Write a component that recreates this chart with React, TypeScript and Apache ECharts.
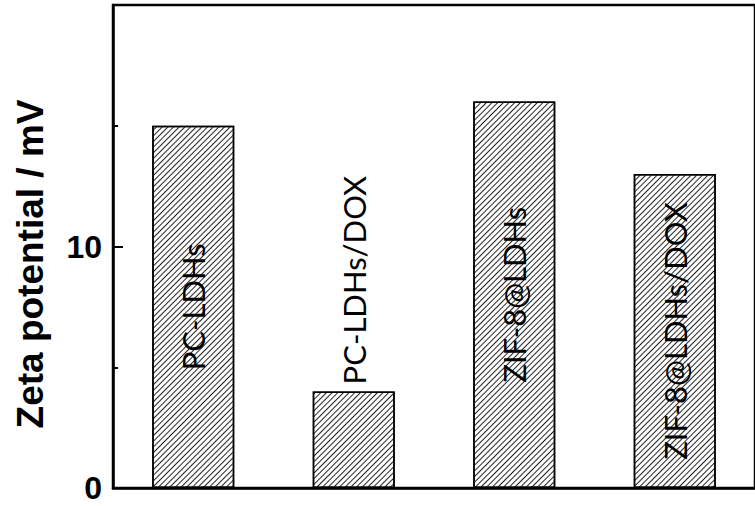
import React, { useEffect, useRef } from "react";
import * as echarts from "echarts";

const categories = ["PC-LDHs", "PC-LDHs/DOX", "ZIF-8@LDHs", "ZIF-8@LDHs/DOX"];
const zetaValues = [15, 4, 16, 13];
const labelInside = [true, false, true, true];
const yTitle = "Zeta potential / mV";

export default function App() {
  const ref = useRef<HTMLDivElement>(null);
  useEffect(() => {
    if (!ref.current) return;
    const chart = echarts.init(ref.current, undefined, { renderer: "svg" });
    const labelFont = "Lato";
    chart.setOption({
      animation: false,
      backgroundColor: "#fff",
      grid: {
        left: 113,
        top: 5,
        bottom: 18,
        right: -10,
        show: true,
        borderColor: "#000",
        borderWidth: 2.5,
        containLabel: false,
      },
      xAxis: {
        type: "category",
        data: categories,
        axisLine: { show: true, lineStyle: { color: "#000", width: 2.5 } },
        axisTick: { show: false },
        axisLabel: { show: false },
        splitLine: { show: false },
      },
      yAxis: {
        type: "value",
        min: 0,
        max: 20,
        interval: 10,
        axisLine: { show: true, lineStyle: { color: "#000", width: 2.5 } },
        axisTick: { show: true, inside: true, length: 10, lineStyle: { color: "#000", width: 2 } },
        minorTick: { show: true, splitNumber: 2, length: 5, lineStyle: { color: "#000", width: 2 } },
        axisLabel: {
          showMaxLabel: false,
          color: "#000",
          fontFamily: "Liberation Sans",
          fontWeight: "bold",
          fontSize: 32,
          margin: 11,
        },
        splitLine: { show: false },
      },
      graphic: [
        {
          type: "text",
          x: 30,
          y: 264,
          rotation: Math.PI / 2,
          style: {
            text: yTitle,
            fill: "#000",
            font: "bold 37px 'Liberation Sans'",
            textAlign: "center",
            textVerticalAlign: "middle",
          },
        },
      ],
      series: [
        {
          type: "bar",
          barWidth: 82,
          data: zetaValues.map((v, i) => ({
            value: v,
            label: labelInside[i]
              ? { show: true, position: "inside", rotate: 90, align: "center", verticalAlign: "middle" }
              : { show: true, position: "top", rotate: 90, align: "left", verticalAlign: "middle", distance: 7 },
          })),
          itemStyle: {
            color: "#fff",
            borderColor: "#000",
            borderWidth: 1.5,
            decal: {
              symbol: "rect",
              symbolSize: 1,
              dashArrayX: [[1, 0]],
              dashArrayY: [0.9, 2.1],
              rotation: -Math.PI / 4,
              color: "#222",
              backgroundColor: "#fff",
            },
          },
          label: {
            show: true,
            formatter: (p: any) => categories[p.dataIndex],
            color: "#000",
            fontFamily: labelFont,
            fontSize: 31,
          },
        },
      ],
    });
    return () => chart.dispose();
  }, []);
  return (
    <div
      ref={ref}
      style={{ position: "absolute", left: 0, top: 0, width: 755, height: 506 }}
    />
  );
}
